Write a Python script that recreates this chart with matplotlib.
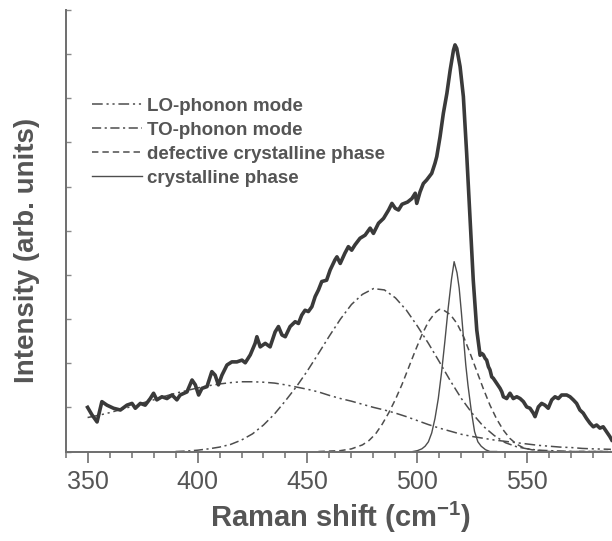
import numpy as np
import matplotlib
matplotlib.use("Agg")
import matplotlib.pyplot as plt
from matplotlib.ticker import MultipleLocator

plt.rcParams['font.family'] = ['Liberation Sans', 'DejaVu Sans']
plt.rcParams['mathtext.fontset'] = 'custom'
plt.rcParams['mathtext.rm'] = 'Liberation Sans'
plt.rcParams['mathtext.bf'] = 'Liberation Sans:bold'

# measured spectrum (counts, arb.)
raman_shift = [350.0, 352.0, 354.3, 356.5, 358.8, 361.8, 364.9, 367.9, 370.2, 371.7,
               374.0, 376.2, 378.5, 380.0, 381.5, 383.8, 386.1, 388.4, 390.6, 392.1,
               395.2, 397.5, 399.0, 400.5, 402.0, 404.3, 406.5, 408.0, 409.5, 411.1,
               413.4, 415.6, 417.9, 420.2, 421.7, 424.0, 426.2, 427.0, 428.5, 430.8,
               433.0, 435.3, 436.8, 438.4, 439.9, 442.1, 444.4, 445.9, 447.4, 448.9,
               450.4, 452.0, 453.5, 455.0, 456.5, 458.7, 460.3, 462.5, 463.4, 464.9,
               467.0, 468.6, 470.1, 471.6, 473.9, 476.2, 478.5, 480.0, 482.3, 484.6,
               486.9, 488.4, 489.9, 491.4, 493.0, 495.5, 497.5, 499.0, 499.7, 501.2,
               502.7, 504.2, 506.5, 508.0, 508.8, 510.3, 511.8, 513.4, 514.9, 516.4,
               517.1, 517.9, 519.4, 520.9, 522.4, 523.9, 525.4, 527.0, 528.5, 529.3,
               530.0, 530.8, 531.5, 532.3, 533.0, 533.8, 534.5, 536.1, 537.6, 538.4,
               539.1, 540.6, 542.1, 543.6, 545.2, 546.7, 548.2, 549.7, 551.2, 552.7,
               553.5, 555.0, 556.5, 558.0, 559.5, 561.1, 562.6, 564.1, 565.6, 567.9,
               569.4, 570.9, 572.4, 573.9, 575.4, 576.9, 578.5, 580.0, 581.5, 583.0,
               584.5, 586.0, 587.5, 588.4]
intensity = [100, 83, 67, 113, 105, 98, 94, 105, 109, 98,
             109, 105, 120, 132, 117, 124, 120, 128, 117, 128,
             135, 162, 151, 128, 143, 147, 181, 173, 151, 173,
             196, 203, 203, 207, 201, 219, 245, 260, 237, 245,
             237, 271, 283, 264, 260, 283, 294, 290, 309, 320,
             317, 328, 351, 366, 385, 388, 411, 434, 441, 426,
             449, 464, 456, 468, 483, 490, 506, 494, 517, 528,
             547, 562, 551, 547, 560, 565, 573, 585, 562, 588,
             607, 615, 630, 653, 668, 713, 766, 811, 864, 909,
             921, 913, 872, 804, 675, 532, 388, 275, 218, 222,
             219, 211, 207, 192, 185, 169, 166, 154, 143, 135,
             124, 120, 132, 120, 124, 120, 113, 101, 98, 87,
             79, 101, 109, 105, 98, 117, 124, 120, 128, 128,
             124, 117, 109, 94, 87, 75, 64, 56, 60, 53,
             56, 45, 34, 26]

# fitted components
lo_x = [350, 355, 360, 365, 370, 375, 380, 385, 390, 395, 400, 405, 410, 415, 420,
        425, 430, 435, 440, 445, 450, 455, 460, 465, 470, 475, 480, 485, 490, 495,
        500, 505, 510, 515, 520, 525, 530, 535, 540, 545, 550, 555, 560, 565, 570,
        575, 580, 588]
lo_y = [77, 82, 88, 95, 102, 110, 117, 125, 132, 138, 144, 149, 153, 156, 158,
        158, 157, 155, 151, 146, 141, 135, 127, 120, 114, 107, 100, 94, 87, 79,
        70, 61, 53, 46, 39, 34, 30, 26, 23, 20, 17, 14, 12, 10, 9,
        7, 6, 5]

to_x = [390, 395, 400, 405, 410, 415, 420, 425, 430, 435, 440, 445, 450, 455, 460,
        465, 470, 475, 480, 485, 490, 495, 500, 505, 510, 515, 520, 525, 530, 535,
        540, 545, 550, 555, 560, 570, 588]
to_y = [0, 1, 3, 6, 10, 16, 26, 40, 60, 85, 115, 147, 183, 222, 262,
        300, 333, 356, 369, 366, 348, 320, 284, 245, 203, 160, 120, 86, 57, 36,
        20, 11, 6, 3, 2, 0, 0]

def_x = [455, 460, 465, 470, 475, 478, 481, 484, 487, 490, 493, 496, 499, 502, 505,
         508, 510, 512, 515, 518, 521, 524, 527, 530, 533, 536, 539, 542, 545, 548,
         552, 556, 560, 588]
def_y = [0, 1, 2, 6, 15, 25, 40, 62, 88, 118, 152, 190, 228, 264, 294,
         314, 322, 320, 310, 290, 260, 222, 182, 142, 105, 74, 49, 30, 17, 9,
         4, 2, 0, 0]

cry_x = [498, 500, 502, 503.5, 505, 506.5, 508, 509.5, 511, 512.5, 514, 515.5, 516.7,
         518, 519, 520, 521, 522, 523, 524.5, 526, 527.5, 529, 531, 533, 536]
cry_y = [0, 2, 6, 12, 22, 42, 75, 120, 180, 250, 325, 390, 430,
         405, 370, 315, 255, 196, 150, 92, 45, 22, 12, 4, 0, 0]

grey_text = '#555555'
line_col = '#3a3a3a'
comp_col = '#4d4d4d'

fig = plt.figure(figsize=(6.12, 5.41), dpi=100)
ax = fig.add_axes([0.1072, 0.1654, 0.8928, 0.8161])

ax.plot(raman_shift, intensity, color=line_col, lw=2.6, solid_joinstyle='round', zorder=5)

lo, = ax.plot(lo_x, lo_y, color=comp_col, lw=1.1,
              dashes=(7, 2.5, 1.4, 2.5, 1.4, 2.5), label='LO-phonon mode')
to, = ax.plot(to_x, to_y, color=comp_col, lw=1.1,
              dashes=(6, 2.3, 1.4, 2.3), label='TO-phonon mode')
de, = ax.plot(def_x, def_y, color=comp_col, lw=1.1,
              dashes=(4.2, 2.6), label='defective crystalline phase')
cr, = ax.plot(cry_x, cry_y, color=comp_col, lw=1.0, label='crystalline phase')

ax.set_xlim(340, 588.5)
ax.set_ylim(0, 1000)

ax.xaxis.set_major_locator(MultipleLocator(50))
ax.xaxis.set_minor_locator(MultipleLocator(10))
ax.yaxis.set_major_locator(MultipleLocator(100))

for side in ['top', 'right']:
    ax.spines[side].set_visible(False)
for side in ['left', 'bottom']:
    ax.spines[side].set_color('#6e6e6e')
    ax.spines[side].set_linewidth(1.4)

ax.tick_params(axis='x', which='major', direction='out', length=8, width=1.2,
               color='#6e6e6e', labelsize=18, labelcolor=grey_text, pad=5)
ax.tick_params(axis='x', which='minor', direction='out', length=4.5, width=1.1,
               color='#6e6e6e')
ax.tick_params(axis='y', which='major', direction='in', length=3.5, width=1.0,
               color='#8a8a8a', labelleft=False)

ax.set_xlabel('Raman shift (cm$^{\\mathbf{-1}}$)', fontsize=21, fontweight='bold',
              color=grey_text)
ax.xaxis.set_label_coords(0.504, -0.11)
ax.set_ylabel('Intensity (arb. units)', fontsize=20, fontweight='bold', color=grey_text)
ax.yaxis.set_label_coords(-0.047, 0.456)

leg = ax.legend(handles=[lo, to, de, cr], loc='upper left',
                bbox_to_anchor=(0.0483, 0.802), frameon=False,
                prop={'family': 'Liberation Sans', 'weight': 'bold', 'size': 13.5},
                handlelength=2.65, handletextpad=0.3, labelspacing=0.37,
                borderpad=0, borderaxespad=0, labelcolor=grey_text)

fig.savefig('out.png', dpi=100)
